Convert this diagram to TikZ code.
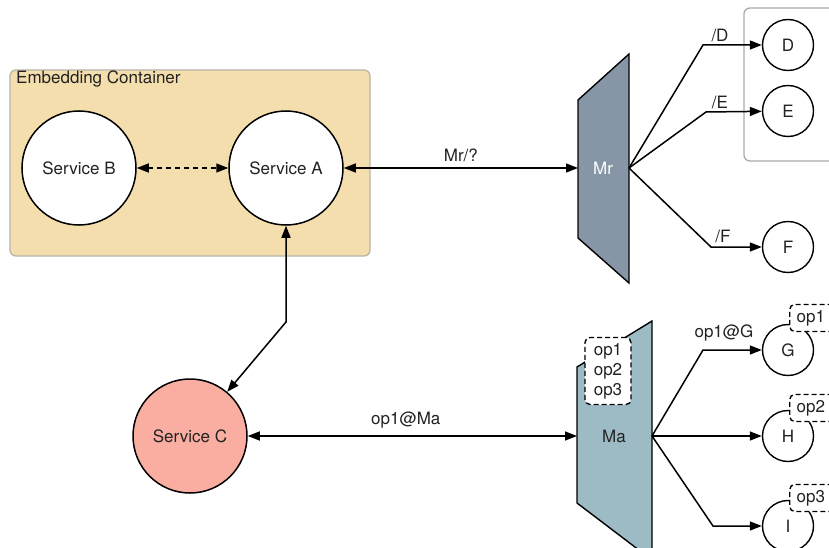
\documentclass[tikz,border=0pt]{standalone}
\usepackage{fontspec}
\setmainfont{TeX Gyre Heros}
\usetikzlibrary{arrows.meta}
\definecolor{containerfill}{HTML}{F5DEAD}
\definecolor{containerline}{HTML}{B9B4AA}
\definecolor{groupline}{HTML}{AAAAAA}
\definecolor{mrfill}{HTML}{8796A6}
\definecolor{mafill}{HTML}{9DBBC5}
\definecolor{cfill}{HTML}{F9AEA1}
\definecolor{ink}{HTML}{222222}
\begin{document}
\begin{tikzpicture}[x=1pt,y=-1pt,
  font=\fontsize{17}{20}\selectfont,
  svc/.style={circle,draw=black,line width=1.5pt,fill=white,minimum size=114pt,inner sep=0pt,text=ink},
  leaf/.style={circle,draw=black,line width=1.4pt,fill=white,minimum size=51pt,inner sep=0pt,text=ink},
  link/.style={line width=1.5pt,draw=black,-{Triangle[length=12pt,width=9pt]}},
  dlink/.style={line width=1.5pt,draw=black,{Triangle[length=12pt,width=9pt]}-{Triangle[length=12pt,width=9pt]}},
  opbox/.style={draw=black,dashed,dash pattern=on 5pt off 3pt,line width=1.4pt,rounded corners=5pt,fill=white,text=ink},
  lbl/.style={text=ink,inner sep=1pt}]
\useasboundingbox (0,0) rectangle (829,548);
\clip (0,0) rectangle (829,548);

% container around services A and B
\draw[containerline,fill=containerfill,line width=1.3pt,rounded corners=6pt] (10,70) rectangle (370,256);
\node[lbl,anchor=west] (cont) at (15,79) {Embedding Container};

% group frame around D and E
\draw[groupline,line width=1.3pt,rounded corners=6pt] (744,8) rectangle (860,161);

% router shapes
\draw[black,line width=1.4pt,fill=mrfill] (578,100) -- (629,54) -- (629,283) -- (578,238) -- cycle;
\node[text=white] (Mr) at (603,168) {Mr};
\coordinate (mrL) at (578,168);
\coordinate (mrR) at (629,168);

\draw[black,line width=1.4pt,fill=mafill] (577,367) -- (652,321) -- (652,560) -- (577,503) -- cycle;
\node[text=ink] (Ma) at (614,436) {Ma};
\coordinate (maL) at (577,436);
\coordinate (maR) at (652,436);
\node[opbox,align=center,minimum width=46pt,minimum height=67pt,inner sep=2pt,
      font=\fontsize{17}{20}\selectfont] (ops) at (608,371) {op1\\op2\\op3};

% services
\node[svc] (B) at (79,168) {Service B};
\node[svc] (A) at (286,168) {Service A};
\node[svc,fill=cfill] (C) at (190,436) {Service C};

% endpoints
\node[leaf] (D) at (788,45) {D};
\node[leaf] (E) at (788,111) {E};
\node[leaf] (F) at (788,247) {F};
\node[leaf] (G) at (788,350) {G};
\node[leaf] (H) at (788,436) {H};
\node[leaf] (I) at (788,526) {I};

% operation tags
\tikzset{tag/.style={opbox,anchor=west,inner xsep=7pt,text width=34pt,align=left,minimum height=27pt}}
\node[tag] (tG) at (789,318) {op1};
\node[tag] (tH) at (789,408) {op2};
\node[tag] (tI) at (789,498) {op3};

% service connections
\draw[dlink,dashed,dash pattern=on 5pt off 4pt] (B) -- (A);
\draw[dlink] (A) -- node[lbl,above=4pt] {Mr/?} (mrL);
\coordinate (kCA) at (286,322);
\draw[dlink] (A) -- (kCA) -- (C);
\draw[dlink] (C) -- node[lbl,above=6pt,pos=0.48] {op1@Ma} (maL);

% router branches
\coordinate (kD) at (703,45);
\coordinate (kE) at (706,112);
\coordinate (kF) at (711,247);
\draw[link] (mrR) -- (kD) -- (D);
\draw[link] (mrR) -- (kE) -- (E);
\draw[link] (mrR) -- (kF) -- (F);
\node[lbl] (lD) at (720,35) {/D};
\node[lbl] (lE) at (720,102) {/E};
\node[lbl] (lF) at (723,236) {/F};

\coordinate (kG) at (703,350);
\coordinate (kI) at (713,526);
\draw[link] (maR) -- (kG) -- (G);
\draw[link] (maR) -- (H);
\draw[link] (maR) -- (kI) -- (I);
\node[lbl] (lG) at (724,333) {op1@G};
\end{tikzpicture}
\end{document}
